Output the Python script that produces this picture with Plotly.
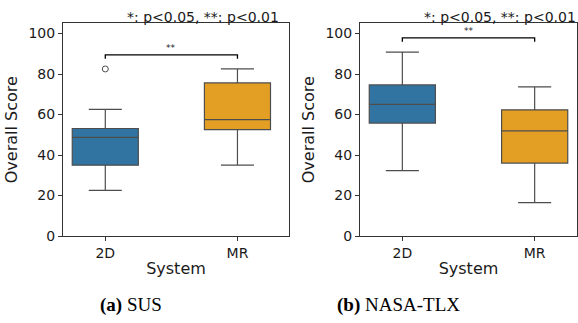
import plotly.graph_objects as go

categories = ["2D", "MR"]
# SUS
sus_low = [22.5, 35.0]
sus_q1 = [35.0, 52.5]
sus_med = [48.75, 57.5]
sus_q3 = [53.1, 75.6]
sus_high = [62.5, 82.5]
sus_outliers = [82.5]
# NASA-TLX
tlx_low = [32.3, 16.5]
tlx_q1 = [55.8, 36.0]
tlx_med = [65.0, 51.9]
tlx_q3 = [74.6, 62.3]
tlx_high = [90.8, 73.7]
colors = ["#3274a1", "#e39f24"]
yticks = [0, 20, 40, 60, 80, 100]
note = "*: p<0.05, **: p<0.01"

W, H = 578, 323

def fx(px):
    return px / W

def fy(py):
    return (H - py) / H

fig = go.Figure()
line_col = "#4d4d4d"

def add_panel(idx, low, q1, med, q3, high, outl):
    xa = "x" if idx == 1 else "x2"
    ya = "y" if idx == 1 else "y2"
    for i, c in enumerate(categories):
        fig.add_trace(go.Box(
            x=[c], q1=[q1[i]], median=[med[i]], q3=[q3[i]],
            lowerfence=[low[i]], upperfence=[high[i]],
            fillcolor=colors[i], line=dict(color=line_col, width=1.2),
            width=0.5, whiskerwidth=0.5, boxpoints=False,
            xaxis=xa, yaxis=ya, showlegend=False, hoverinfo="skip"))
    if outl:
        fig.add_trace(go.Scatter(
            x=[categories[0]] * len(outl), y=outl, mode="markers",
            marker=dict(symbol="circle-open", size=6, color=line_col, line=dict(width=1)),
            xaxis=xa, yaxis=ya, showlegend=False, hoverinfo="skip"))

add_panel(1, sus_low, sus_q1, sus_med, sus_q3, sus_high, sus_outliers)
add_panel(2, tlx_low, tlx_q1, tlx_med, tlx_q3, tlx_high, [])

ydom = [fy(242), fy(24)]
axis_common = dict(showline=True, linecolor="#333333", linewidth=1, mirror=True,
                   ticks="outside", ticklen=4, tickcolor="#333333",
                   tickfont=dict(family="DejaVu Sans", size=14, color="#1a1a1a"),
                   showgrid=False, zeroline=False)
title_font = dict(family="DejaVu Sans", size=16, color="#1a1a1a")
fig.update_layout(
    width=W, height=H, margin=dict(l=0, r=0, t=0, b=0),
    paper_bgcolor="white", plot_bgcolor="white",
    xaxis=dict(domain=[fx(63), fx(289)], anchor="y", type="category",
               categoryorder="array", categoryarray=categories, range=[-0.32, 1.39],
               title=dict(text="System", font=title_font, standoff=2),
               **axis_common),
    yaxis=dict(domain=ydom, anchor="x", range=[0, 105], tickvals=yticks,
               title=dict(text="Overall Score", font=title_font, standoff=6),
               **axis_common),
    xaxis2=dict(domain=[fx(360), fx(577)], anchor="y2", type="category",
                categoryorder="array", categoryarray=categories, range=[-0.32, 1.32],
                title=dict(text="System", font=title_font, standoff=2),
                **axis_common),
    yaxis2=dict(domain=ydom, anchor="x2", range=[0, 105], tickvals=yticks,
                title=dict(text="Overall Score", font=title_font, standoff=6),
                **axis_common),
)

# significance brackets
def bracket(xa, ya, ytop, ybot):
    fig.add_trace(go.Scatter(x=[categories[0], categories[0], categories[1], categories[1]],
                             y=[ybot, ytop, ytop, ybot], mode="lines",
                             line=dict(color="black", width=1.3), xaxis=xa, yaxis=ya,
                             showlegend=False, hoverinfo="skip"))

bracket("x", "y", 89.5, 87.5)
bracket("x2", "y2", 97.9, 96.0)
fig.add_annotation(x=0.5, y=89.5, xref="x", yref="y", text="**", showarrow=False,
                   yanchor="bottom", yshift=0, font=dict(family="DejaVu Sans", size=9, color="#222"))
fig.add_annotation(x=0.5, y=97.9, xref="x2", yref="y2", text="**", showarrow=False,
                   yanchor="bottom", yshift=0, font=dict(family="DejaVu Sans", size=9, color="#222"))

# notes
fig.add_annotation(x=fx(281), y=fy(24), xref="paper", yref="paper", text=note,
                   showarrow=False, xanchor="right", yanchor="bottom", yshift=-4,
                   font=dict(family="DejaVu Sans", size=14, color="#1a1a1a"))
fig.add_annotation(x=fx(578), y=fy(24), xref="paper", yref="paper", text=note,
                   showarrow=False, xanchor="right", yanchor="bottom", yshift=-4,
                   font=dict(family="DejaVu Sans", size=14, color="#1a1a1a"))

# captions
fig.add_annotation(x=fx(131), y=fy(313), xref="paper", yref="paper",
                   text="<b>(a)</b> SUS", showarrow=False, xanchor="center", yanchor="middle",
                   font=dict(family="Liberation Serif", size=19, color="black"))
fig.add_annotation(x=fx(398), y=fy(313), xref="paper", yref="paper",
                   text="<b>(b)</b> NASA-TLX", showarrow=False, xanchor="center", yanchor="middle",
                   font=dict(family="Liberation Serif", size=19, color="black"))

fig.write_html("out.html", config={"displayModeBar": False},
               post_script="document.body.style.margin='0';document.body.style.overflow='hidden';")
